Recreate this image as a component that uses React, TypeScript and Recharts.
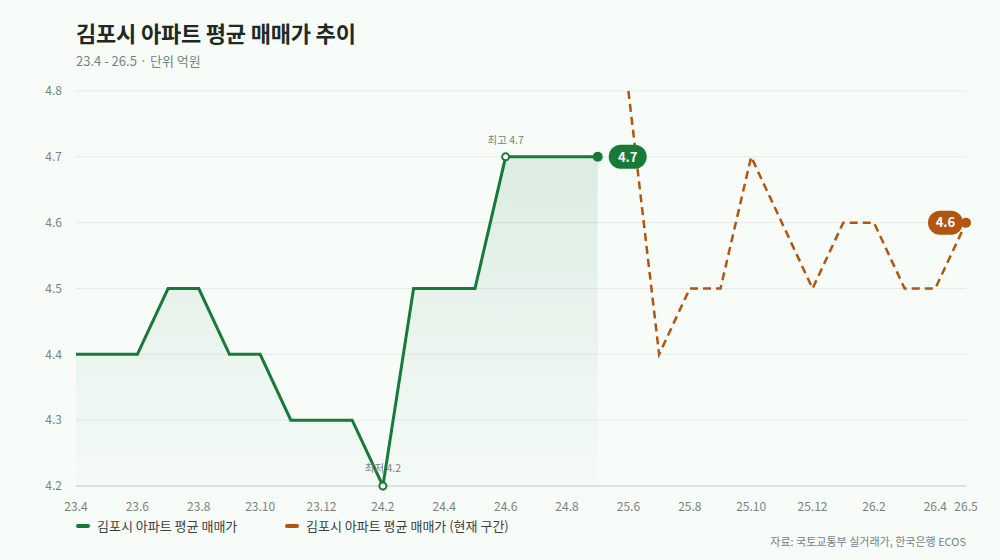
import React from "react";
import {
  Area,
  CartesianGrid,
  ComposedChart,
  Line,
  XAxis,
  YAxis
} from "recharts";

// months on the axis (24.10 ~ 25.5 are not in the source data)
const MONTHS = [
  "23.4", "23.5", "23.6", "23.7", "23.8", "23.9", "23.10", "23.11", "23.12",
  "24.1", "24.2", "24.3", "24.4", "24.5", "24.6", "24.7", "24.8", "24.9",
  "25.6", "25.7", "25.8", "25.9", "25.10", "25.11", "25.12",
  "26.1", "26.2", "26.3", "26.4", "26.5"
];

// 억원
const PAST_PRICE = [
  4.4, 4.4, 4.4, 4.5, 4.5, 4.4, 4.4, 4.3, 4.3,
  4.3, 4.2, 4.5, 4.5, 4.5, 4.7, 4.7, 4.7, 4.7
];
const CURRENT_PRICE = [4.8, 4.4, 4.5, 4.5, 4.7, 4.6, 4.5, 4.6, 4.6, 4.5, 4.5, 4.6];

const SHOWN_TICKS = [
  "23.4", "23.6", "23.8", "23.10", "23.12", "24.2", "24.4", "24.6", "24.8",
  "25.6", "25.8", "25.10", "25.12", "26.2", "26.4", "26.5"
];
const Y_TICKS = [4.2, 4.3, 4.4, 4.5, 4.6, 4.7, 4.8];

const GREEN = "#177a38";
const ORANGE = "#b4540f";
const BG = "#f7fcf9";
const MUTED = "#78837e";
const FONT = '"Noto Sans CJK KR", "Noto Sans", sans-serif';

const currentStart = PAST_PRICE.length;

const data = MONTHS.map((label, i) => ({
  label,
  past: i < currentStart ? PAST_PRICE[i] : null,
  current: i >= currentStart ? CURRENT_PRICE[i - currentStart] : null
}));

const maxIdx = PAST_PRICE.indexOf(Math.max(...PAST_PRICE));
const minIdx = PAST_PRICE.indexOf(Math.min(...PAST_PRICE));
const pastLast = PAST_PRICE.length - 1;
const currentLast = MONTHS.length - 1;

function PastDot(props: any) {
  const { cx, cy, index, value } = props;
  const v = Array.isArray(value) ? value[1] : value;
  if (index === maxIdx || index === minIdx) {
    const isMax = index === maxIdx;
    return (
      <g key={`pd-${index}`}>
        <circle cx={cx} cy={cy} r={3.5} fill="#ffffff" stroke={GREEN} strokeWidth={2} />
        <text
          x={cx}
          y={isMax ? cy - 13 : cy - 14}
          textAnchor="middle"
          fontSize={10.5}
          fill={MUTED}
        >
          {isMax ? "최고" : "최저"} {v.toFixed(1)}
        </text>
      </g>
    );
  }
  if (index === pastLast) {
    return (
      <g key={`pd-${index}`}>
        <circle cx={cx} cy={cy} r={5} fill={GREEN} />
        <rect x={cx + 11} y={cy - 12} width={38} height={24} rx={12} fill={GREEN} />
        <text
          x={cx + 30}
          y={cy}
          dy="0.36em"
          textAnchor="middle"
          fontSize={13}
          fontWeight={700}
          fill="#ffffff"
        >
          {v.toFixed(1)}
        </text>
      </g>
    );
  }
  return <g key={`pd-${index}`} />;
}

function CurrentDot(props: any) {
  const { cx, cy, index, value } = props;
  const v = Array.isArray(value) ? value[1] : value;
  if (index === currentLast) {
    return (
      <g key={`cd-${index}`}>
        <circle cx={cx} cy={cy} r={5} fill={ORANGE} />
        <rect x={cx - 38} y={cy - 12} width={35} height={24} rx={12} fill={ORANGE} />
        <text
          x={cx - 20.5}
          y={cy}
          dy="0.36em"
          textAnchor="middle"
          fontSize={13}
          fontWeight={700}
          fill="#ffffff"
        >
          {v.toFixed(1)}
        </text>
      </g>
    );
  }
  return <g key={`cd-${index}`} />;
}

function MonthTick(props: any) {
  const { x, y, payload } = props;
  if (!SHOWN_TICKS.includes(payload.value)) return <g />;
  return (
    <text x={x} y={y} dy={17} textAnchor="middle" fontSize={12} fill={MUTED}>
      {payload.value}
    </text>
  );
}

export default function App() {
  return (
    <div
      style={{
        position: "absolute",
        top: 0,
        left: 0,
        width: 1000,
        height: 560,
        background: BG,
        fontFamily: FONT
      }}
    >
      <div
        style={{
          position: "absolute",
          left: 76,
          top: 16,
          fontSize: 22,
          fontWeight: 700,
          color: "#1e2a23",
          letterSpacing: -0.2
        }}
      >
        김포시 아파트 평균 매매가 추이
      </div>
      <div
        style={{ position: "absolute", left: 76, top: 51, fontSize: 13, color: MUTED }}
      >
        23.4 - 26.5 · 단위 억원
      </div>

      <ComposedChart
        width={1000}
        height={560}
        data={data}
        margin={{ top: 91, right: 34, bottom: 44, left: 36 }}
      >
        <defs>
          <linearGradient id="pastFill" x1="0" y1="0" x2="0" y2="1">
            <stop offset="0%" stopColor={GREEN} stopOpacity={0.2} />
            <stop offset="100%" stopColor={GREEN} stopOpacity={0.02} />
          </linearGradient>
        </defs>
        <CartesianGrid vertical={false} stroke="#e5ebe8" />
        <XAxis
          dataKey="label"
          interval={0}
          height={30}
          tick={MonthTick}
          tickLine={false}
          axisLine={{ stroke: "#d3dbd7", strokeWidth: 1.5 }}
        />
        <YAxis
          domain={[4.2, 4.8]}
          ticks={Y_TICKS}
          width={40}
          tickMargin={8}
          tickFormatter={(v: number) => v.toFixed(1)}
          tick={{ fill: MUTED, fontSize: 12 }}
          tickLine={false}
          axisLine={false}
        />
        <Area
          type="linear"
          dataKey="past"
          stroke="none"
          fill="url(#pastFill)"
          isAnimationActive={false}
          activeDot={false}
        />
        <Line
          type="linear"
          dataKey="past"
          stroke={GREEN}
          strokeWidth={3}
          dot={PastDot}
          activeDot={false}
          isAnimationActive={false}
        />
        <Line
          type="linear"
          dataKey="current"
          stroke={ORANGE}
          strokeWidth={2.5}
          strokeDasharray="8 5"
          dot={CurrentDot}
          activeDot={false}
          isAnimationActive={false}
        />
      </ComposedChart>

      <div
        style={{
          position: "absolute",
          left: 76,
          top: 516,
          display: "flex",
          alignItems: "center",
          fontSize: 13,
          color: "#3a423e"
        }}
      >
        <span
          style={{ width: 14, height: 4, borderRadius: 2, background: GREEN, marginRight: 7 }}
        />
        김포시 아파트 평균 매매가
      </div>
      <div
        style={{
          position: "absolute",
          left: 285,
          top: 516,
          display: "flex",
          alignItems: "center",
          fontSize: 13,
          color: "#3a423e"
        }}
      >
        <span
          style={{ width: 14, height: 4, borderRadius: 2, background: ORANGE, marginRight: 7 }}
        />
        김포시 아파트 평균 매매가 (현재 구간)
      </div>
      <div
        style={{
          position: "absolute",
          right: 34,
          top: 533,
          fontSize: 11,
          color: MUTED
        }}
      >
        자료: 국토교통부 실거래가, 한국은행 ECOS
      </div>
    </div>
  );
}
